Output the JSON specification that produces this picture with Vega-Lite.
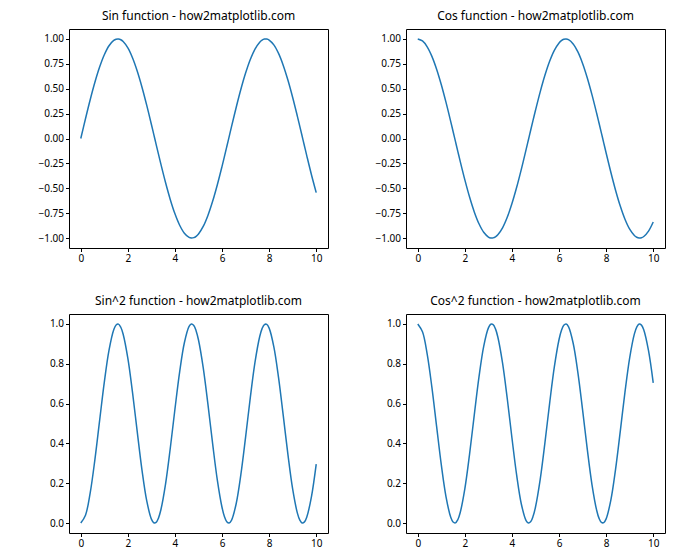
{
  "$schema": "https://vega.github.io/schema/vega-lite/v6.json",
  "padding": {"left": 28, "top": 9, "right": 5, "bottom": 5},
  "background": "white",
  "datasets": {
    "f": [
      {"x": 0.0, "sin": 0.0, "cos": 1.0, "sin2": 0.0, "cos2": 1.0},
      {"x": 0.2, "sin": 0.1987, "cos": 0.9801, "sin2": 0.0395, "cos2": 0.9605},
      {"x": 0.4, "sin": 0.3894, "cos": 0.9211, "sin2": 0.1516, "cos2": 0.8484},
      {"x": 0.6, "sin": 0.5646, "cos": 0.8253, "sin2": 0.3188, "cos2": 0.6812},
      {"x": 0.8, "sin": 0.7174, "cos": 0.6967, "sin2": 0.5147, "cos2": 0.4853},
      {"x": 1.0, "sin": 0.8415, "cos": 0.5403, "sin2": 0.7081, "cos2": 0.2919},
      {"x": 1.2, "sin": 0.932, "cos": 0.3624, "sin2": 0.8686, "cos2": 0.1314},
      {"x": 1.4, "sin": 0.9854, "cos": 0.17, "sin2": 0.9711, "cos2": 0.0289},
      {"x": 1.5, "sin": 0.9975, "cos": 0.0707, "sin2": 0.995, "cos2": 0.005},
      {"x": 1.6, "sin": 0.9996, "cos": -0.0292, "sin2": 0.9991, "cos2": 0.0009},
      {"x": 1.7, "sin": 0.9917, "cos": -0.1288, "sin2": 0.9834, "cos2": 0.0166},
      {"x": 1.8, "sin": 0.9738, "cos": -0.2272, "sin2": 0.9483, "cos2": 0.0517},
      {"x": 2.0, "sin": 0.9093, "cos": -0.4161, "sin2": 0.8268, "cos2": 0.1732},
      {"x": 2.2, "sin": 0.8085, "cos": -0.5885, "sin2": 0.6537, "cos2": 0.3463},
      {"x": 2.4, "sin": 0.6755, "cos": -0.7374, "sin2": 0.4563, "cos2": 0.5437},
      {"x": 2.6, "sin": 0.5155, "cos": -0.8569, "sin2": 0.2657, "cos2": 0.7343},
      {"x": 2.8, "sin": 0.335, "cos": -0.9422, "sin2": 0.1122, "cos2": 0.8878},
      {"x": 3.0, "sin": 0.1411, "cos": -0.99, "sin2": 0.0199, "cos2": 0.9801},
      {"x": 3.1, "sin": 0.0416, "cos": -0.9991, "sin2": 0.0017, "cos2": 0.9983},
      {"x": 3.2, "sin": -0.0584, "cos": -0.9983, "sin2": 0.0034, "cos2": 0.9966},
      {"x": 3.3, "sin": -0.1577, "cos": -0.9875, "sin2": 0.0249, "cos2": 0.9751},
      {"x": 3.4, "sin": -0.2555, "cos": -0.9668, "sin2": 0.0653, "cos2": 0.9347},
      {"x": 3.6, "sin": -0.4425, "cos": -0.8968, "sin2": 0.1958, "cos2": 0.8042},
      {"x": 3.8, "sin": -0.6119, "cos": -0.791, "sin2": 0.3744, "cos2": 0.6256},
      {"x": 4.0, "sin": -0.7568, "cos": -0.6536, "sin2": 0.5728, "cos2": 0.4272},
      {"x": 4.2, "sin": -0.8716, "cos": -0.4903, "sin2": 0.7597, "cos2": 0.2403},
      {"x": 4.4, "sin": -0.9516, "cos": -0.3073, "sin2": 0.9055, "cos2": 0.0945},
      {"x": 4.6, "sin": -0.9937, "cos": -0.1122, "sin2": 0.9874, "cos2": 0.0126},
      {"x": 4.7, "sin": -0.9999, "cos": -0.0124, "sin2": 0.9998, "cos2": 0.0002},
      {"x": 4.8, "sin": -0.9962, "cos": 0.0875, "sin2": 0.9924, "cos2": 0.0076},
      {"x": 4.9, "sin": -0.9825, "cos": 0.1865, "sin2": 0.9652, "cos2": 0.0348},
      {"x": 5.0, "sin": -0.9589, "cos": 0.2837, "sin2": 0.9195, "cos2": 0.0805},
      {"x": 5.2, "sin": -0.8835, "cos": 0.4685, "sin2": 0.7806, "cos2": 0.2194},
      {"x": 5.4, "sin": -0.7728, "cos": 0.6347, "sin2": 0.5972, "cos2": 0.4028},
      {"x": 5.6, "sin": -0.6313, "cos": 0.7756, "sin2": 0.3985, "cos2": 0.6015},
      {"x": 5.8, "sin": -0.4646, "cos": 0.8855, "sin2": 0.2159, "cos2": 0.7841},
      {"x": 6.0, "sin": -0.2794, "cos": 0.9602, "sin2": 0.0781, "cos2": 0.9219},
      {"x": 6.1, "sin": -0.1822, "cos": 0.9833, "sin2": 0.0332, "cos2": 0.9668},
      {"x": 6.2, "sin": -0.0831, "cos": 0.9965, "sin2": 0.0069, "cos2": 0.9931},
      {"x": 6.3, "sin": 0.0168, "cos": 0.9999, "sin2": 0.0003, "cos2": 0.9997},
      {"x": 6.4, "sin": 0.1165, "cos": 0.9932, "sin2": 0.0136, "cos2": 0.9864},
      {"x": 6.6, "sin": 0.3115, "cos": 0.9502, "sin2": 0.097, "cos2": 0.903},
      {"x": 6.8, "sin": 0.4941, "cos": 0.8694, "sin2": 0.2441, "cos2": 0.7559},
      {"x": 7.0, "sin": 0.657, "cos": 0.7539, "sin2": 0.4317, "cos2": 0.5683},
      {"x": 7.2, "sin": 0.7937, "cos": 0.6084, "sin2": 0.63, "cos2": 0.37},
      {"x": 7.4, "sin": 0.8987, "cos": 0.4385, "sin2": 0.8077, "cos2": 0.1923},
      {"x": 7.6, "sin": 0.9679, "cos": 0.2513, "sin2": 0.9368, "cos2": 0.0632},
      {"x": 7.7, "sin": 0.9882, "cos": 0.1532, "sin2": 0.9765, "cos2": 0.0235},
      {"x": 7.8, "sin": 0.9985, "cos": 0.054, "sin2": 0.997, "cos2": 0.003},
      {"x": 7.9, "sin": 0.9989, "cos": -0.046, "sin2": 0.9979, "cos2": 0.0021},
      {"x": 8.0, "sin": 0.9894, "cos": -0.1455, "sin2": 0.9789, "cos2": 0.0211},
      {"x": 8.2, "sin": 0.9407, "cos": -0.3392, "sin2": 0.8849, "cos2": 0.1151},
      {"x": 8.4, "sin": 0.8546, "cos": -0.5193, "sin2": 0.7303, "cos2": 0.2697},
      {"x": 8.6, "sin": 0.7344, "cos": -0.6787, "sin2": 0.5393, "cos2": 0.4607},
      {"x": 8.8, "sin": 0.5849, "cos": -0.8111, "sin2": 0.3421, "cos2": 0.6579},
      {"x": 9.0, "sin": 0.4121, "cos": -0.9111, "sin2": 0.1698, "cos2": 0.8302},
      {"x": 9.2, "sin": 0.2229, "cos": -0.9748, "sin2": 0.0497, "cos2": 0.9503},
      {"x": 9.3, "sin": 0.1245, "cos": -0.9922, "sin2": 0.0155, "cos2": 0.9845},
      {"x": 9.4, "sin": 0.0248, "cos": -0.9997, "sin2": 0.0006, "cos2": 0.9994},
      {"x": 9.5, "sin": -0.0752, "cos": -0.9972, "sin2": 0.0057, "cos2": 0.9943},
      {"x": 9.6, "sin": -0.1743, "cos": -0.9847, "sin2": 0.0304, "cos2": 0.9696},
      {"x": 9.8, "sin": -0.3665, "cos": -0.9304, "sin2": 0.1343, "cos2": 0.8657},
      {"x": 10.0, "sin": -0.544, "cos": -0.8391, "sin2": 0.2959, "cos2": 0.7041}
    ]
  },
  "vconcat": [
    {
      "hconcat": [
        {
          "title": "Sin function - how2matplotlib.com",
          "width": 259, "height": 219,
          "data": {"name": "f"},
          "mark": {"type": "line", "interpolate": "catmull-rom"},
          "encoding": {
            "x": {"field": "x", "type": "quantitative", "scale": {"domain": [-0.5, 10.5], "nice": false, "zero": false}, "axis": {"values": [0, 2, 4, 6, 8, 10]}},
            "y": {"field": "sin", "type": "quantitative", "scale": {"domain": [-1.1, 1.1], "nice": false, "zero": false}, "axis": {"values": [-1, -0.75, -0.5, -0.25, 0, 0.25, 0.5, 0.75, 1], "format": ".2f"}}
          }
        },
        {
          "title": "Cos function - how2matplotlib.com",
          "width": 259, "height": 219,
          "data": {"name": "f"},
          "mark": {"type": "line", "interpolate": "catmull-rom"},
          "encoding": {
            "x": {"field": "x", "type": "quantitative", "scale": {"domain": [-0.5, 10.5], "nice": false, "zero": false}, "axis": {"values": [0, 2, 4, 6, 8, 10]}},
            "y": {"field": "cos", "type": "quantitative", "scale": {"domain": [-1.1, 1.1], "nice": false, "zero": false}, "axis": {"values": [-1, -0.75, -0.5, -0.25, 0, 0.25, 0.5, 0.75, 1], "format": ".2f"}}
          }
        }
      ],
      "spacing": 36
    },
    {
      "hconcat": [
        {
          "title": "Sin^2 function - how2matplotlib.com",
          "width": 259, "height": 219,
          "data": {"name": "f"},
          "mark": {"type": "line", "interpolate": "catmull-rom"},
          "encoding": {
            "x": {"field": "x", "type": "quantitative", "scale": {"domain": [-0.5, 10.5], "nice": false, "zero": false}, "axis": {"values": [0, 2, 4, 6, 8, 10]}},
            "y": {"field": "sin2", "type": "quantitative", "scale": {"domain": [-0.05, 1.05], "nice": false, "zero": false}, "axis": {"values": [0, 0.2, 0.4, 0.6, 0.8, 1], "format": ".1f"}}
          }
        },
        {
          "title": "Cos^2 function - how2matplotlib.com",
          "width": 259, "height": 219,
          "data": {"name": "f"},
          "mark": {"type": "line", "interpolate": "catmull-rom"},
          "encoding": {
            "x": {"field": "x", "type": "quantitative", "scale": {"domain": [-0.5, 10.5], "nice": false, "zero": false}, "axis": {"values": [0, 2, 4, 6, 8, 10]}},
            "y": {"field": "cos2", "type": "quantitative", "scale": {"domain": [-0.05, 1.05], "nice": false, "zero": false}, "axis": {"values": [0, 0.2, 0.4, 0.6, 0.8, 1], "format": ".1f"}}
          }
        }
      ],
      "spacing": 36
    }
  ],
  "spacing": 27,
  "config": {
    "font": "Noto Sans",
    "view": {"stroke": "#000", "strokeWidth": 1},
    "axis": {"domain": false, "grid": false, "tickColor": "#000", "tickSize": 3.5, "labelColor": "#000", "labelFontSize": 10, "labelPadding": 2, "title": null},
    "axisY": {"minExtent": 40, "maxExtent": 40},
    "axisX": {"minExtent": 18, "maxExtent": 18},
    "title": {"fontSize": 12, "fontWeight": "normal", "color": "#000", "offset": 6},
    "line": {"color": "#1f77b4", "strokeWidth": 1.5}
  }
}
